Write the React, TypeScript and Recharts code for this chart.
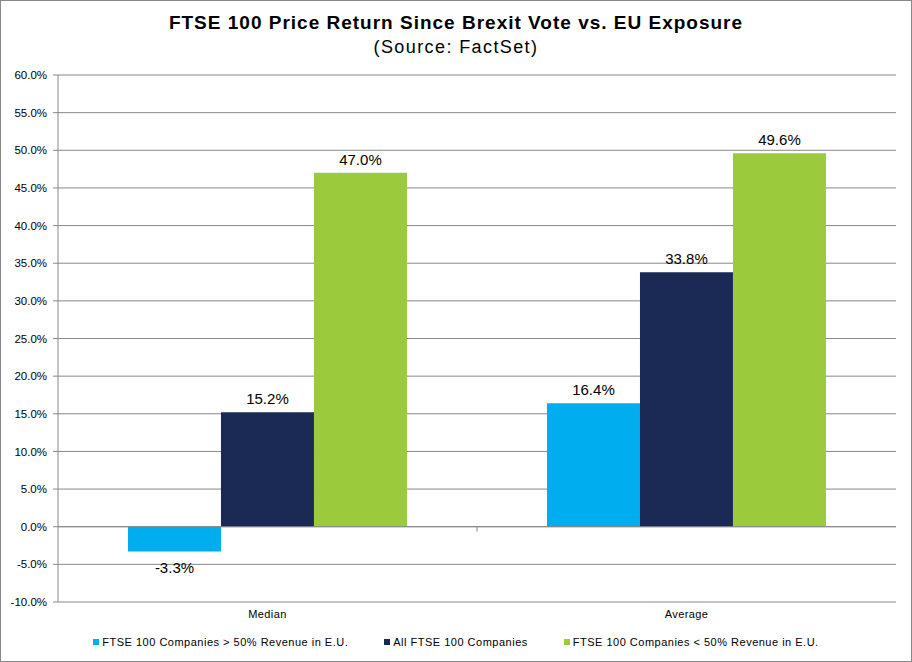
import { BarChart, Bar, XAxis, YAxis, CartesianGrid, Legend, LabelList, ReferenceLine } from 'recharts';

const categories = ['Median', 'Average'];
const above50 = [-3.3, 16.4];
const allCompanies = [15.2, 33.8];
const below50 = [47.0, 49.6];
const yTicks = [-10, -5, 0, 5, 10, 15, 20, 25, 30, 35, 40, 45, 50, 55, 60];

const seriesNames = [
    'FTSE 100 Companies > 50% Revenue in E.U.',
    'All FTSE 100 Companies',
    'FTSE 100 Companies < 50% Revenue in E.U.',
];
const colors = ['#00AEEF', '#1B2A55', '#9BCA3C'];

const data = categories.map((name, i) => ({
    name,
    above: above50[i],
    all: allCompanies[i],
    below: below50[i],
}));

const font = '"Liberation Sans", Arial, sans-serif';

function renderLabel(props: any) {
    const { x, y, width, height, value } = props;
    const top = Math.min(y, y + height);
    const bottom = Math.max(y, y + height);
    const ty = value < 0 ? bottom + 21 : top - 8;
    return (
        <text x={x + width / 2} y={ty} textAnchor="middle" fontSize={15} fill="#000" fontFamily={font}>
            {value.toFixed(1) + '%'}
        </text>
    );
}

function renderLegend(props: any) {
    // keep the series order instead of the default alphabetical sort
    const items = [...props.payload].sort(
        (a: any, b: any) => seriesNames.indexOf(a.value) - seriesNames.indexOf(b.value)
    );
    return (
        <div style={{ display: 'flex', justifyContent: 'center', alignItems: 'center', fontSize: 11, letterSpacing: 0.5, height: 20, paddingLeft: 16 }}>
            {items.map((entry: any, i: number) => (
                <span key={entry.value} style={{ display: 'flex', alignItems: 'center', marginLeft: i === 0 ? 0 : 36 }}>
                    <span style={{ width: 6, height: 6, background: entry.color, display: 'inline-block', marginRight: 3 }} />
                    {entry.value}
                </span>
            ))}
        </div>
    );
}

// zero line with the small category divider tick in the middle
function zeroLine(props: any) {
    const { x1, x2, y1 } = props;
    const mid = (x1 + x2) / 2;
    return (
        <g>
            <line x1={x1} x2={x2} y1={y1} y2={y1} stroke="#888" />
            <line x1={mid} x2={mid} y1={y1} y2={y1 + 5} stroke="#888" />
        </g>
    );
}

export default function App() {
    return (
        <div style={{ position: 'absolute', left: 0, top: 0, width: 912, height: 662, fontFamily: font, background: '#fff' }}>
            <div style={{ position: 'absolute', top: 12, width: 912, textAlign: 'center', fontSize: 19, fontWeight: 'bold', letterSpacing: 1 }}>
                FTSE 100 Price Return Since Brexit Vote vs. EU Exposure
            </div>
            <div style={{ position: 'absolute', top: 37, width: 912, textAlign: 'center', fontSize: 18, letterSpacing: 1.4 }}>
                (Source: FactSet)
            </div>
            <BarChart
                width={912}
                height={662}
                data={data}
                margin={{ top: 75, right: 16, left: 0, bottom: 10 }}
                barGap={0}
                barCategoryGap="16.7%"
            >
                <CartesianGrid vertical={false} stroke="#888" />
                <XAxis
                    dataKey="name"
                    axisLine={false}
                    tickLine={false}
                    height={30}
                    tick={{ fontSize: 11, fill: '#000', fontFamily: font, letterSpacing: 0.4 }}
                />
                <YAxis
                    width={58}
                    domain={[-10, 60]}
                    ticks={yTicks}
                    interval={0}
                    tickFormatter={(v: number) => v.toFixed(1) + '%'}
                    stroke="#888"
                    tickSize={5}
                    tickMargin={6}
                    tick={{ fontSize: 11.5, fill: '#000', fontFamily: font }}
                />
                <Legend verticalAlign="bottom" content={renderLegend} wrapperStyle={{ height: 20 }} />
                <ReferenceLine y={0} shape={zeroLine} />
                <Bar dataKey="above" name={seriesNames[0]} fill={colors[0]} isAnimationActive={false}>
                    <LabelList dataKey="above" content={renderLabel} />
                </Bar>
                <Bar dataKey="all" name={seriesNames[1]} fill={colors[1]} isAnimationActive={false}>
                    <LabelList dataKey="all" content={renderLabel} />
                </Bar>
                <Bar dataKey="below" name={seriesNames[2]} fill={colors[2]} isAnimationActive={false}>
                    <LabelList dataKey="below" content={renderLabel} />
                </Bar>
            </BarChart>
            <div style={{ position: 'absolute', left: 0, top: 0, width: 912, height: 662, boxSizing: 'border-box', border: '1px solid #888', pointerEvents: 'none' }} />
        </div>
    );
}
